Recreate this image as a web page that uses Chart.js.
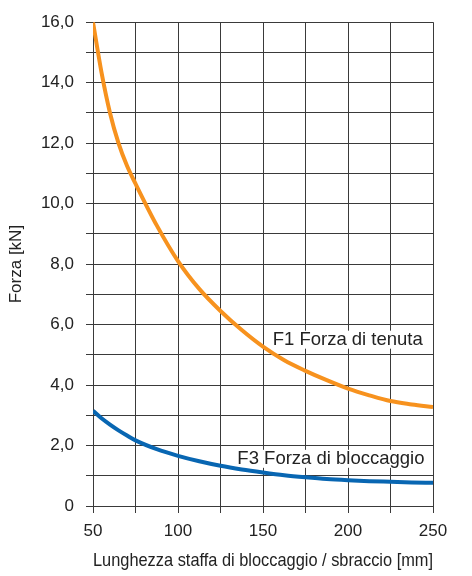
<!DOCTYPE html>
<html>
<head>
<meta charset="utf-8">
<script src="https://cdn.jsdelivr.net/npm/chart.js@4"></script>
<style>
  html, body { margin: 0; padding: 0; background: #fff; }
  #box { width: 472px; height: 576px; }
</style>
</head>
<body>
<div id="box"><canvas id="grafica"></canvas></div>
<script>
// sbraccio [mm]
const lunghezza = [50, 55, 60, 65, 70, 75, 87.5, 100, 112.5, 125, 137.5, 150, 162.5, 175, 187.5, 200, 212.5, 225, 237.5, 250];
// F1 Forza di tenuta [kN]
const forzaTenuta = [16.0, 14.34, 13.0, 12.0, 11.25, 10.66, 9.28, 8.1, 7.18, 6.45, 5.82, 5.27, 4.82, 4.47, 4.16, 3.88, 3.66, 3.47, 3.36, 3.27];
// F3 Forza di bloccaggio [kN]
const forzaBloccaggio = [3.15, 2.9, 2.69, 2.5, 2.33, 2.17, 1.88, 1.66, 1.48, 1.33, 1.21, 1.11, 1.02, 0.95, 0.89, 0.85, 0.82, 0.8, 0.78, 0.77];

const etichette = [
  { testo: 'F1 Forza di tenuta', x: 244, y: 5.5 },
  { testo: 'F3 Forza di bloccaggio', x: 245, y: 1.56 }
];

const font = 'Liberation Sans, Arial, Helvetica, sans-serif';
const grigio = '#3a3a3a';

// etichette delle curve con sfondo bianco (sotto le curve)
const etichettePlugin = {
  id: 'etichette',
  beforeDatasetsDraw(chart) {
    const ctx = chart.ctx;
    const sx = chart.scales.x, sy = chart.scales.y;
    ctx.save();
    ctx.font = '18.5px ' + font;
    ctx.textAlign = 'right';
    ctx.textBaseline = 'middle';
    etichette.forEach(e => {
      const px = sx.getPixelForValue(e.x);
      const py = sy.getPixelForValue(e.y);
      const w = ctx.measureText(e.testo).width;
      ctx.fillStyle = '#fff';
      ctx.fillRect(px - w - 3, py - 9, w + 6, 18);
      ctx.fillStyle = '#222';
      ctx.fillText(e.testo, px, py);
    });
    ctx.restore();
  }
};

const ctx = document.getElementById('grafica').getContext('2d');
new Chart(ctx, {
  type: 'line',
  data: {
    datasets: [
      {
        label: 'F1 Forza di tenuta',
        data: lunghezza.map((x, i) => ({ x: x, y: forzaTenuta[i] })),
        borderColor: '#F7921E',
        borderWidth: 4,
        pointRadius: 0,
        cubicInterpolationMode: 'monotone',
        fill: false
      },
      {
        label: 'F3 Forza di bloccaggio',
        data: lunghezza.map((x, i) => ({ x: x, y: forzaBloccaggio[i] })),
        borderColor: '#0866B2',
        borderWidth: 4,
        pointRadius: 0,
        cubicInterpolationMode: 'monotone',
        fill: false
      }
    ]
  },
  options: {
    responsive: true,
    maintainAspectRatio: false,
    animation: false,
    layout: { padding: { top: 15, right: 39, left: 0, bottom: 0 } },
    plugins: { legend: { display: false }, tooltip: { enabled: false } },
    scales: {
      x: {
        type: 'linear',
        min: 50,
        max: 250,
        afterFit(scale) { scale.height = 70; },
        border: { color: grigio, width: 1 },
        grid: { color: grigio, lineWidth: 1, tickLength: 7 },
        ticks: {
          stepSize: 25,
          autoSkip: false,
          maxRotation: 0,
          padding: 8,
          color: '#222',
          font: { family: font, size: 17 },
          callback: v => (v % 50 === 0 ? String(v) : '')
        },
        title: {
          display: true,
          text: 'Lunghezza staffa di bloccaggio / sbraccio [mm]',
          color: '#222',
          font: { family: font, size: 18.5 }
        }
      },
      y: {
        min: 0,
        max: 16,
        afterFit(scale) { scale.width = 93; },
        border: { color: grigio, width: 1 },
        grid: { color: grigio, lineWidth: 1, tickLength: 7 },
        ticks: {
          stepSize: 1,
          autoSkip: false,
          padding: 12,
          color: '#222',
          font: { family: font, size: 17 },
          callback: v => (v === 0 ? '0' : (v % 2 === 0 ? v.toFixed(1).replace('.', ',') : ''))
        },
        title: {
          display: true,
          text: 'Forza [kN]',
          color: '#222',
          padding: { top: 6, bottom: 4 },
          font: { family: font, size: 17 }
        }
      }
    }
  },
  plugins: [etichettePlugin]
});
</script>
</body>
</html>
